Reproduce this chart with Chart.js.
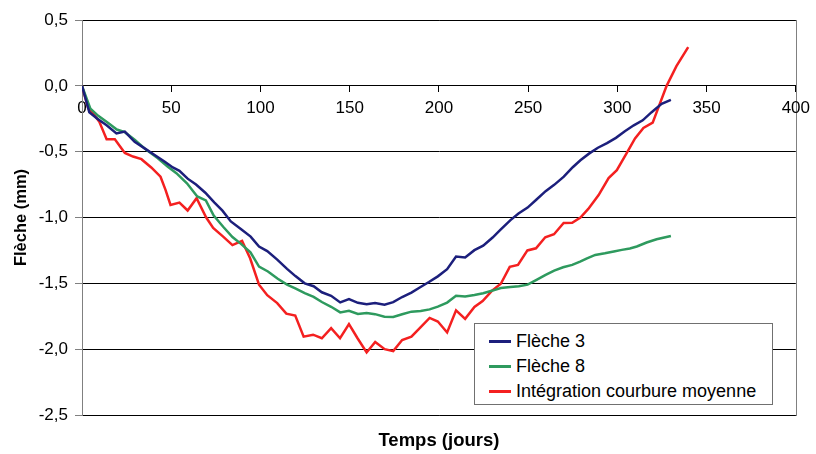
<!DOCTYPE html>
<html>
<head>
<meta charset="utf-8">
<script src="https://cdn.jsdelivr.net/npm/chart.js@4.4.1/dist/chart.umd.min.js"></script>
<style>
  html, body { margin: 0; padding: 0; background: #fff; }
  #wrap { position: relative; width: 816px; height: 454px; }
  #legend { position: absolute; left: 474px; top: 323px; width: 297px; height: 80px;
    border: 1px solid #707070; background: #fff; box-sizing: content-box;
    font-family: "Liberation Sans", Arial, sans-serif; font-size: 18px; color: #000; }
  .row { position: absolute; left: 0; height: 24px; line-height: 24px; white-space: nowrap; }
  .sw { position: absolute; left: 14px; top: 11px; width: 22px; height: 2.5px; }
  .lbl { position: absolute; left: 41px; top: 0; }
</style>
</head>
<body>
<div id="wrap">
  <canvas id="c" width="816" height="454"></canvas>
  <div id="legend"></div>
</div>
<script>
// ---- data ----
const seriesNames = ["Flèche 3", "Flèche 8", "Intégration courbure moyenne"];

const daysF3 = [0, 4.1, 8.6, 13.8, 19.3, 24, 29.5, 35.1, 40.7, 46.2, 50.9, 54.6, 59.2, 63.9, 69.1, 74.1, 78.7, 83.4, 89, 94.5, 99.2, 103.8, 109.4, 114.9, 119.6, 124.8, 129.8, 134.4, 139.6, 144.7, 149.6, 154.6, 159.5, 164.2, 169.5, 174.4, 179.4, 184.6, 189.5, 194.4, 199.4, 204.6, 209.6, 214.7, 219.9, 224.8, 230.1, 234.7, 240.1, 244.6, 249.7, 254.7, 259.8, 264.6, 270, 275, 279.3, 284.1, 289.1, 294.2, 299.2, 304.2, 309.2, 314.2, 319.2, 324.8, 330];
const valsF3 = [0, -0.2, -0.25, -0.3, -0.362, -0.348, -0.425, -0.475, -0.525, -0.575, -0.62, -0.645, -0.705, -0.75, -0.812, -0.885, -0.948, -1.03, -1.088, -1.145, -1.22, -1.255, -1.32, -1.39, -1.445, -1.5, -1.522, -1.568, -1.595, -1.645, -1.62, -1.648, -1.658, -1.65, -1.662, -1.643, -1.604, -1.57, -1.53, -1.49, -1.447, -1.393, -1.297, -1.303, -1.248, -1.214, -1.152, -1.09, -1.02, -0.97, -0.925, -0.863, -0.8, -0.752, -0.69, -0.618, -0.565, -0.515, -0.47, -0.435, -0.395, -0.345, -0.3, -0.262, -0.2, -0.137, -0.106];

const daysF8 = [0, 4.7, 9.1, 14.7, 19.5, 24, 29.5, 36, 42.5, 48.1, 52.9, 58.8, 64.6, 69.4, 73.8, 79.1, 84.3, 89.1, 94.4, 99.2, 104.2, 109.7, 114.9, 119.8, 124.8, 129.8, 134.4, 139.6, 144.7, 149.6, 154.6, 159.5, 164.2, 169.5, 174.4, 179.4, 184.6, 189.8, 194.8, 199.4, 204.6, 209.6, 214.7, 219.9, 224.8, 230.1, 234.7, 240, 244.8, 249.7, 254.7, 259.8, 264.6, 269.6, 274.7, 279.1, 283, 287.6, 293, 298, 302.5, 307, 310.9, 316.4, 322, 330];
const valsF8 = [0, -0.173, -0.228, -0.283, -0.332, -0.352, -0.41, -0.486, -0.55, -0.615, -0.663, -0.74, -0.84, -0.87, -0.985, -1.07, -1.148, -1.2, -1.265, -1.373, -1.41, -1.465, -1.51, -1.54, -1.575, -1.603, -1.642, -1.678, -1.721, -1.708, -1.733, -1.725, -1.734, -1.753, -1.756, -1.735, -1.715, -1.71, -1.698, -1.677, -1.646, -1.595, -1.6, -1.588, -1.575, -1.555, -1.536, -1.528, -1.522, -1.51, -1.474, -1.436, -1.403, -1.378, -1.36, -1.335, -1.31, -1.284, -1.272, -1.258, -1.246, -1.235, -1.22, -1.19, -1.165, -1.14];

const daysInt = [0, 3.5, 5.4, 9.6, 13.8, 18.4, 24, 28.6, 33.3, 38.8, 44, 46.8, 49.6, 54.6, 59.2, 64.2, 69.6, 73.5, 79.1, 84.3, 89.7, 94.2, 99.2, 103.8, 109.4, 114.5, 119.5, 124.2, 129.5, 134.4, 139.6, 144.6, 149.6, 154.4, 159.5, 164.3, 169.6, 174.4, 179.4, 184.6, 189.8, 194.8, 199.4, 204.6, 209.6, 214.7, 219.9, 224.5, 229.8, 234.7, 239.7, 244.3, 249.6, 254.4, 259.6, 264.5, 269.9, 274.7, 279.3, 283.7, 289.5, 295.1, 299.7, 305.3, 309.9, 314.6, 319.8, 327.6, 333.1, 339.7];
const valsInt = [0, -0.17, -0.195, -0.27, -0.405, -0.405, -0.51, -0.537, -0.557, -0.62, -0.69, -0.79, -0.905, -0.887, -0.947, -0.853, -1.0, -1.08, -1.145, -1.21, -1.178, -1.31, -1.51, -1.59, -1.65, -1.73, -1.745, -1.905, -1.89, -1.917, -1.84, -1.917, -1.81, -1.917, -2.025, -1.945, -2.0, -2.015, -1.93, -1.905, -1.833, -1.763, -1.79, -1.873, -1.705, -1.77, -1.68, -1.635, -1.555, -1.503, -1.375, -1.36, -1.25, -1.234, -1.15, -1.127, -1.042, -1.04, -1.0, -0.935, -0.83, -0.7, -0.64, -0.51, -0.4, -0.32, -0.28, 0.0, 0.15, 0.294];

const xTicks = [0, 50, 100, 150, 200, 250, 300, 350, 400];
const yTicks = [0.5, 0.0, -0.5, -1.0, -1.5, -2.0, -2.5];
const xTitle = "Temps (jours)";
const yTitle = "Flèche (mm)";

// ---- chart ----
const colors = ["#1c1f7c", "#2e9a5e", "#f42020"];
const pairs = (xs, ys) => xs.map((d, i) => ({ x: d, y: ys[i] }));
const FONT = "'Liberation Sans', Arial, sans-serif";

const frame = {
  id: 'frame',
  beforeDraw(chart) {
    const a = chart.chartArea, ctx = chart.ctx;
    ctx.save();
    ctx.strokeStyle = '#808080';
    ctx.lineWidth = 1;
    ctx.strokeRect(Math.round(a.left) + 0.5, Math.round(a.top) + 0.5, Math.round(a.right - a.left), Math.round(a.bottom - a.top));
    ctx.restore();
  }
};

// x-axis title centred under the plot area (the axis itself sits on y = 0)
const xTitlePlugin = {
  id: 'xTitle',
  afterDraw(chart) {
    const a = chart.chartArea, ctx = chart.ctx;
    ctx.save();
    ctx.fillStyle = '#000';
    ctx.font = "bold 18.5px " + FONT;
    ctx.textAlign = 'center';
    ctx.textBaseline = 'middle';
    ctx.fillText(xTitle, (a.left + a.right) / 2, 441);
    ctx.restore();
  }
};

const chart = new Chart(document.getElementById('c'), {
  type: 'line',
  data: {
    datasets: [
      { label: seriesNames[0], data: pairs(daysF3, valsF3), borderColor: colors[0] },
      { label: seriesNames[1], data: pairs(daysF8, valsF8), borderColor: colors[1] },
      { label: seriesNames[2], data: pairs(daysInt, valsInt), borderColor: colors[2] }
    ].map(d => Object.assign(d, { borderWidth: 2.5, pointRadius: 0, tension: 0, fill: false }))
  },
  options: {
    responsive: false,
    animation: false,
    events: [],
    layout: { padding: { left: 0, right: 16, top: 20, bottom: 39 } },
    plugins: {
      legend: { display: false },
      tooltip: { enabled: false },
      title: { display: false }
    },
    scales: {
      x: {
        type: 'linear', position: { y: 0 }, min: 0, max: 400,
        afterBuildTicks: s => { s.ticks = xTicks.map(v => ({ value: v })); },
        grid: { drawOnChartArea: false, drawTicks: true, tickLength: 6, color: '#000' },
        border: { display: true, color: '#000', width: 1 },
        ticks: { color: '#000', padding: 6, maxRotation: 0, font: { family: FONT, size: 17 } }
      },
      y: {
        type: 'linear', min: -2.5, max: 0.5,
        afterBuildTicks: s => { s.ticks = yTicks.map(v => ({ value: v })); },
        afterFit: s => { s.width = 82; },
        grid: { color: '#000', lineWidth: 1, drawTicks: true, tickLength: 7, tickColor: '#808080' },
        border: { display: true, color: '#808080', width: 1 },
        ticks: {
          color: '#000', padding: 7, font: { family: FONT, size: 17 },
          callback: v => v.toFixed(1).replace('.', ',').replace('-0,0', '0,0')
        },
        title: {
          display: true, text: yTitle, color: '#000',
          font: { family: FONT, size: 16.5, weight: 'bold' },
          padding: { top: 12, bottom: 0 }
        }
      }
    }
  },
  plugins: [frame, xTitlePlugin]
});

// HTML legend built from the chart's datasets
const leg = document.getElementById('legend');
chart.data.datasets.forEach((ds, i) => {
  const row = document.createElement('div');
  row.className = 'row';
  row.style.top = (5 + i * 25) + 'px';
  const sw = document.createElement('div');
  sw.className = 'sw';
  sw.style.background = ds.borderColor;
  const lb = document.createElement('span');
  lb.className = 'lbl';
  lb.textContent = ds.label;
  row.appendChild(sw); row.appendChild(lb);
  leg.appendChild(row);
});
</script>
</body>
</html>
